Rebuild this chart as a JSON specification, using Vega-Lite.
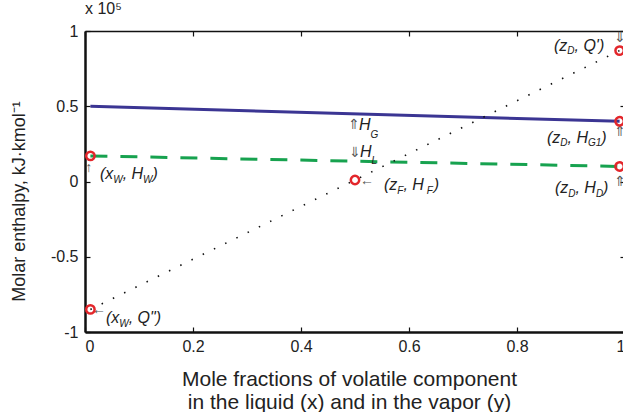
{
  "$schema": "https://vega.github.io/schema/vega-lite/v6.json",
  "width": 540,
  "height": 301,
  "autosize": "none",
  "padding": {"left": 85, "top": 31, "right": -2, "bottom": 80},
  "background": "white",
  "config": {
    "view": {"stroke": null},
    "font": "Liberation Sans",
    "axis": {"labelFont": "Liberation Sans", "titleFont": "Liberation Sans", "labelColor": "#222", "titleColor": "#222", "grid": false, "domainColor": "#111", "tickColor": "#111"}
  },
  "title": {"text": "x 10⁵", "anchor": "start", "frame": "group", "fontSize": 16, "fontWeight": "normal", "color": "#222", "offset": 6, "font": "Liberation Sans"},
  "datasets": {
    "lines": [
      {"series": "HG", "x": 0.01, "y": 0.5},
      {"series": "HG", "x": 0.99, "y": 0.40},
      {"series": "HL", "x": 0.01, "y": 0.17},
      {"series": "HL", "x": 0.99, "y": 0.10},
      {"series": "Q", "x": 0.01, "y": -0.85},
      {"series": "Q", "x": 0.99, "y": 0.87}
    ],
    "pts": [
      {"x": 0.01, "y": 0.17},
      {"x": 0.01, "y": -0.85},
      {"x": 0.5, "y": 0.01},
      {"x": 0.99, "y": 0.87},
      {"x": 0.99, "y": 0.40},
      {"x": 0.99, "y": 0.10}
    ],
    "labels": [
      {"x": 0.0278, "y": 0.0133, "t": "(x", "k": "m"},
      {"x": 0.0524, "y": -0.012, "t": "W", "k": "s"},
      {"x": 0.0698, "y": 0.0133, "t": ", H", "k": "m"},
      {"x": 0.1076, "y": -0.012, "t": "W", "k": "s"},
      {"x": 0.125, "y": 0.0133, "t": ")", "k": "m"},
      {"x": 0.0389, "y": -0.9435, "t": "(x", "k": "m"},
      {"x": 0.0635, "y": -0.969, "t": "W", "k": "s"},
      {"x": 0.0809, "y": -0.9435, "t": ", Q\")", "k": "m"},
      {"x": 0.5537, "y": -0.0598, "t": "(z", "k": "m"},
      {"x": 0.5783, "y": -0.085, "t": "F", "k": "s"},
      {"x": 0.5896, "y": -0.0598, "t": " , H", "k": "m"},
      {"x": 0.633, "y": -0.085, "t": "F", "k": "s"},
      {"x": 0.646, "y": -0.0598, "t": ")", "k": "m"},
      {"x": 0.5074, "y": 0.3389, "t": "H", "k": "m"},
      {"x": 0.5289, "y": 0.292, "t": "G", "k": "s"},
      {"x": 0.5093, "y": 0.1595, "t": "H", "k": "m"},
      {"x": 0.5307, "y": 0.1196, "t": "L", "k": "s"},
      {"x": 0.8685, "y": 0.8704, "t": "(z", "k": "m"},
      {"x": 0.8931, "y": 0.8450, "t": "D", "k": "s"},
      {"x": 0.9065, "y": 0.8704, "t": ", Q')", "k": "m"},
      {"x": 0.8556, "y": 0.2591, "t": "(z", "k": "m"},
      {"x": 0.8802, "y": 0.2326, "t": "D", "k": "s"},
      {"x": 0.8935, "y": 0.2591, "t": ", H", "k": "m"},
      {"x": 0.9313, "y": 0.2326, "t": "G1", "k": "s"},
      {"x": 0.9559, "y": 0.2591, "t": ")", "k": "m"},
      {"x": 0.8704, "y": -0.0797, "t": "(z", "k": "m"},
      {"x": 0.895, "y": -0.105, "t": "D", "k": "s"},
      {"x": 0.9083, "y": -0.0797, "t": ", H", "k": "m"},
      {"x": 0.9461, "y": -0.105, "t": "D", "k": "s"},
      {"x": 0.9594, "y": -0.0797, "t": ")", "k": "m"}
    ],
    "arrows": [
      {"x": 0.007, "y": 0.09, "t": "↑"},
      {"x": 0.026, "y": -0.854, "t": "←"},
      {"x": 0.498, "y": 0.375, "t": "⇑"},
      {"x": 0.5, "y": 0.19, "t": "⇓"},
      {"x": 0.522, "y": 0.003, "t": "←"},
      {"x": 0.991, "y": 0.33, "t": "⇑"},
      {"x": 0.991, "y": 0.0, "t": "⇑"},
      {"x": 0.991, "y": 0.955, "t": "⇓"}
    ]
  },
  "layer": [
    {
      "data": {"name": "lines"},
      "transform": [{"filter": "datum.series == 'HG'"}],
      "mark": {"type": "line", "color": "#3b3593", "strokeWidth": 3},
      "encoding": {
        "x": {"field": "x", "type": "quantitative", "scale": {"domain": [0, 1], "nice": false, "zero": false},
          "axis": {"orient": "bottom", "values": [0, 0.2, 0.4, 0.6, 0.8, 1], "labelExpr": "'' + datum.value", "labelFontSize": 16, "tickSize": -5, "tickWidth": 1.2, "labelPadding": 11, "domainWidth": 2.5,
            "title": ["Mole fractions of volatile component", "in the liquid (x) and in the vapor (y)"], "titleFontSize": 21, "titleFontWeight": "normal", "titleX": 264, "titleY": 36, "titleBaseline": "top", "titleLineHeight": 23, "titleAlign": "center", "titleAnchor": null}},
        "y": {"field": "y", "type": "quantitative", "scale": {"domain": [-1, 1], "nice": false, "zero": false},
          "axis": {"orient": "left", "values": [-1, -0.5, 0, 0.5, 1], "labelExpr": "'' + datum.value", "labelFontSize": 16, "tickSize": -5, "tickWidth": 1.2, "labelPadding": 12, "domainWidth": 2.5,
            "title": "Molar enthalpy, kJ·kmol⁻¹", "titleFontSize": 18, "titleFontWeight": "normal", "titleX": -66, "titleY": 170, "titleAngle": 270, "titleAlign": "center", "titleBaseline": "middle"}}
      }
    },
    {
      "data": {"name": "lines"},
      "transform": [{"filter": "datum.series == 'HL'"}],
      "mark": {"type": "line", "color": "#17a24f", "strokeWidth": 3, "strokeDash": [17, 13]},
      "encoding": {
        "x": {"field": "x", "type": "quantitative", "axis": {"orient": "top", "values": [0, 0.2, 0.4, 0.6, 0.8, 1], "labels": false, "tickSize": -5, "tickWidth": 1.2, "domainWidth": 1.5, "title": null}},
        "y": {"field": "y", "type": "quantitative", "axis": {"orient": "right", "values": [-1, -0.5, 0, 0.5, 1], "labels": false, "tickSize": -5, "tickWidth": 1.2, "domainWidth": 2, "title": null}}
      }
    },
    {
      "data": {"name": "lines"},
      "transform": [{"filter": "datum.series == 'Q'"}],
      "mark": {"type": "line", "color": "#111", "strokeWidth": 1.6, "strokeDash": [1.5, 11]},
      "encoding": {
        "x": {"field": "x", "type": "quantitative", "axis": null},
        "y": {"field": "y", "type": "quantitative", "axis": null}
      }
    },
    {
      "data": {"name": "arrows"},
      "mark": {"type": "text", "align": "center", "baseline": "middle", "fontSize": 14, "color": "#555"},
      "encoding": {
        "x": {"field": "x", "type": "quantitative", "axis": null},
        "y": {"field": "y", "type": "quantitative", "axis": null},
        "text": {"field": "t"}
      }
    },
    {
      "data": {"name": "pts"},
      "mark": {"type": "point", "shape": "circle", "filled": false, "color": "#e3262b", "strokeWidth": 2.5, "size": 70, "opacity": 1},
      "encoding": {
        "x": {"field": "x", "type": "quantitative", "axis": null},
        "y": {"field": "y", "type": "quantitative", "axis": null}
      }
    },
    {
      "data": {"name": "labels"},
      "transform": [{"filter": "datum.k == 'm'"}],
      "mark": {"type": "text", "align": "left", "baseline": "alphabetic", "fontSize": 16, "fontStyle": "italic", "color": "#222"},
      "encoding": {
        "x": {"field": "x", "type": "quantitative", "axis": null},
        "y": {"field": "y", "type": "quantitative", "axis": null},
        "text": {"field": "t"}
      }
    },
    {
      "data": {"name": "labels"},
      "transform": [{"filter": "datum.k == 's'"}],
      "mark": {"type": "text", "align": "left", "baseline": "alphabetic", "fontSize": 10, "fontStyle": "italic", "color": "#222"},
      "encoding": {
        "x": {"field": "x", "type": "quantitative", "axis": null},
        "y": {"field": "y", "type": "quantitative", "axis": null},
        "text": {"field": "t"}
      }
    }
  ]
}
